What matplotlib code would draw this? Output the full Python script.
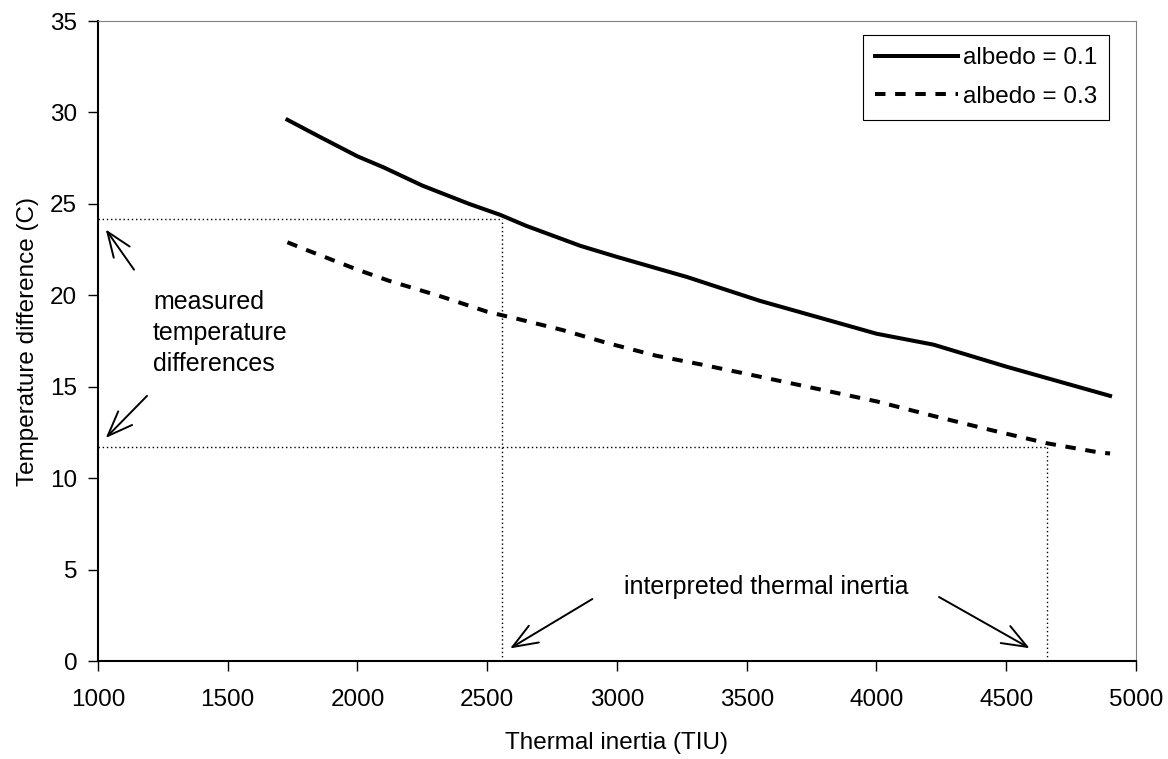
import numpy as np
import matplotlib
matplotlib.use('Agg')
import matplotlib.pyplot as plt

plt.rcParams['font.family'] = ['Liberation Sans', 'DejaVu Sans']

# albedo = 0.1 (solid)
ti_a1 = [1730, 1850, 2000, 2100, 2250, 2430, 2550, 2650, 2860, 3000,
         3270, 3550, 3800, 4000, 4220, 4500, 4700, 4900]
dt_a1 = [29.6, 28.7, 27.6, 27.0, 26.0, 25.0, 24.4, 23.8, 22.7, 22.1,
         21.0, 19.7, 18.7, 17.9, 17.3, 16.1, 15.3, 14.5]
# albedo = 0.3 (dashed)
ti_a3 = [1730, 1800, 2000, 2120, 2330, 2500, 2620, 2790, 2960, 3150,
         3330, 3500, 3800, 4000, 4220, 4450, 4660, 4860, 4900]
dt_a3 = [22.9, 22.5, 21.4, 20.8, 19.9, 19.1, 18.7, 18.1, 17.4, 16.7,
         16.2, 15.7, 14.8, 14.2, 13.4, 12.6, 11.9, 11.4, 11.35]

measured_dt = [24.15, 11.7]
interp_ti = [2555, 4656]

fs = 17.5

fig = plt.figure(figsize=(11.68, 7.59), dpi=100)
ax = fig.add_axes([0.0839, 0.1291, 0.9726 - 0.0839, 0.9723 - 0.1291])

ax.plot(ti_a1, dt_a1, color='black', lw=2.9, label='albedo = 0.1')
ax.plot(ti_a3, dt_a3, color='black', lw=2.9, linestyle=(0, (2.6, 2.4)),
        label='albedo = 0.3')

# reading lines
for t, d in zip(interp_ti, measured_dt):
    ax.plot([1000, t], [d, d], color='black', lw=1, linestyle=(0, (1, 2)))
    ax.plot([t, t], [0, d], color='black', lw=1, linestyle=(0, (1, 2)))

arr = dict(arrowstyle='->, head_length=1.8, head_width=0.7', color='black',
           lw=1.4, shrinkA=0, shrinkB=0)
ax.annotate('', xy=(1030, 23.6), xytext=(1139, 21.4), arrowprops=arr)
ax.annotate('', xy=(1030, 12.2), xytext=(1189, 14.5), arrowprops=arr)
ax.annotate('', xy=(2588, 0.69), xytext=(2905, 3.39), arrowprops=arr)
ax.annotate('', xy=(4590, 0.7), xytext=(4241, 3.5), arrowprops=arr)

ax.text(1212, 17.93, 'measured\ntemperature\ndifferences', fontsize=18,
        ha='left', va='center', linespacing=1.36)
ax.text(3575, 4.05, 'interpreted thermal inertia', fontsize=18,
        ha='center', va='center')

ax.set_xlim(1000, 5000)
ax.set_ylim(0, 35)
ax.set_xticks(np.arange(1000, 5001, 500))
ax.set_yticks(np.arange(0, 36, 5))
ax.tick_params(direction='out', length=7, width=1, labelsize=fs)
ax.tick_params(axis='x', pad=13)
ax.tick_params(axis='y', pad=8)

ax.spines['left'].set_linewidth(1.5)
ax.spines['bottom'].set_linewidth(1.5)
ax.spines['top'].set_color('#808080')
ax.spines['right'].set_color('#808080')

ax.set_xlabel('Thermal inertia (TIU)', fontsize=fs, labelpad=15)
ax.set_ylabel('Temperature difference (C)', fontsize=fs, labelpad=8)

leg = ax.legend(loc='upper right', bbox_to_anchor=(0.974, 0.978), fontsize=fs,
                handlelength=3.4, handletextpad=0.2, borderpad=0.5,
                labelspacing=0.67, fancybox=False, framealpha=1,
                edgecolor='black', borderaxespad=0)
leg.get_frame().set_linewidth(0.8)

fig.savefig('out.png', dpi=100)
